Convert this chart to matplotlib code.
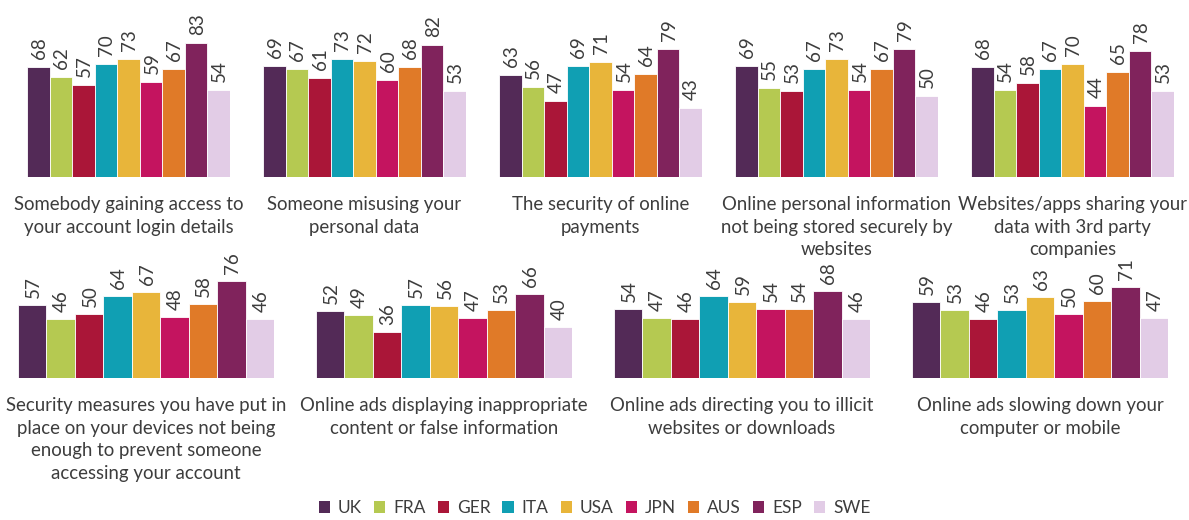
import matplotlib
matplotlib.use("Agg")
import matplotlib.pyplot as plt
from matplotlib.patches import Patch

plt.rcParams['font.family'] = ['Lato', 'DejaVu Sans']

countries = ["UK", "FRA", "GER", "ITA", "USA", "JPN", "AUS", "ESP", "SWE"]
colors = ["#532a57", "#b5c951", "#aa1638", "#109fb3", "#e8b53a",
          "#c4145f", "#e07a28", "#80235c", "#e2cce6"]

titles_top = [
    "Somebody gaining access to\nyour account login details",
    "Someone misusing your\npersonal data",
    "The security of online\npayments",
    "Online personal information\nnot being stored securely by\nwebsites",
    "Websites/apps sharing your\ndata with 3rd party\ncompanies",
]
titles_bottom = [
    "Security measures you have put in\nplace on your devices not being\nenough to prevent someone\naccessing your account",
    "Online ads displaying inappropriate\ncontent or false information",
    "Online ads directing you to illicit\nwebsites or downloads",
    "Online ads slowing down your\ncomputer or mobile",
]

login_details = [68, 62, 57, 70, 73, 59, 67, 83, 54]
misusing_data = [69, 67, 61, 73, 72, 60, 68, 82, 53]
online_payments = [63, 56, 47, 69, 71, 54, 64, 79, 43]
stored_securely = [69, 55, 53, 67, 73, 54, 67, 79, 50]
third_party = [68, 54, 58, 67, 70, 44, 65, 78, 53]
device_security = [57, 46, 50, 64, 67, 48, 58, 76, 46]
inappropriate_ads = [52, 49, 36, 57, 56, 47, 53, 66, 40]
illicit_ads = [54, 47, 46, 64, 59, 54, 54, 68, 46]
slowing_ads = [59, 53, 46, 53, 63, 50, 60, 71, 47]

top_values = [login_details, misusing_data, online_payments, stored_securely, third_party]
bottom_values = [device_security, inappropriate_ads, illicit_ads, slowing_ads]

W, H = 1189, 520
fig = plt.figure(figsize=(W / 100, H / 100), dpi=100)
text_color = "#3d3d3d"


def panel(x0, width, base, height, values, title, label_gap=8):
    # pixel geometry -> figure fraction
    ax = fig.add_axes([x0 / W, (H - base) / H, width / W, height / H])
    xs = range(len(values))
    ax.bar(xs, values, width=1.0, color=colors, edgecolor="white",
           linewidth=0.6)
    for x, v in zip(xs, values):
        ax.annotate(str(v), (x, v), xytext=(1, label_gap),
                    textcoords="offset pixels", rotation=90,
                    ha="center", va="bottom", fontsize=13.5, color=text_color)
    ax.set_xlim(-0.5, len(values) - 0.5)
    ax.set_ylim(0, 100)
    ax.axis("off")
    ax.annotate(title, (0.5, 0), xycoords="axes fraction",
                xytext=(0, -19), textcoords="offset pixels",
                ha="center", va="top", fontsize=13.4, color=text_color,
                linespacing=1.4, annotation_clip=False)
    return ax


for i, (vals, t) in enumerate(zip(top_values, titles_top)):
    panel(27 + i * 236, 203, 177, 161.5, vals, t)

for i, (vals, t) in enumerate(zip(bottom_values, titles_bottom)):
    panel(18 + i * 298, 256, 378, 128, vals, t, label_gap=7)

handles = [Patch(facecolor=c, edgecolor="none") for c in colors]
fig.legend(handles, countries, loc="lower center", ncol=9, frameon=False,
           bbox_to_anchor=(0.5, -0.022), fontsize=12.5, handlelength=0.65,
           handleheight=0.65, handletextpad=0.45, columnspacing=0.7,
           labelcolor=text_color)

fig.savefig("out.png", dpi=100)
